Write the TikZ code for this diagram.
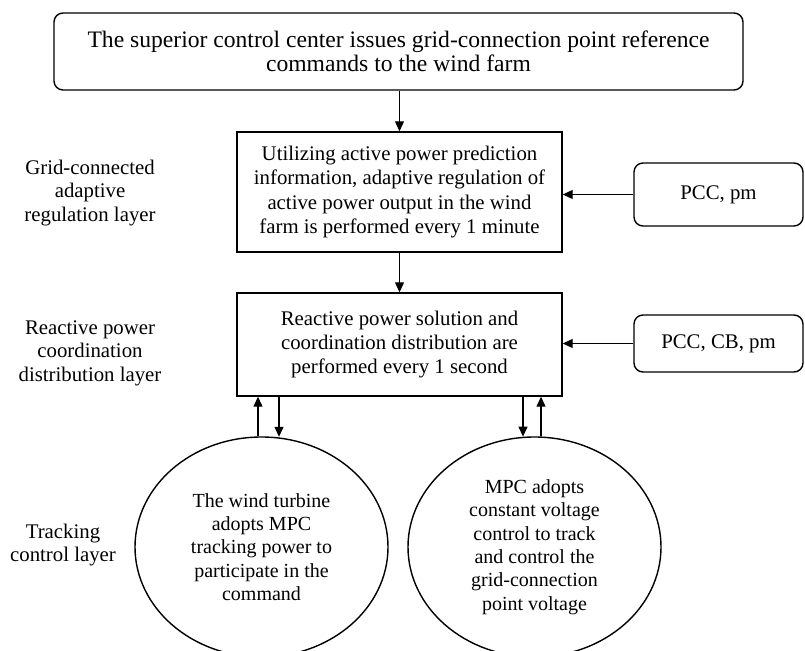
\documentclass[tikz,border=0pt]{standalone}
\usepackage{fontspec}
\setmainfont{Liberation Serif}
\newfontfamily\tnr{Liberation Serif}
\usetikzlibrary{arrows.meta,shapes.geometric,calc}

\tikzset{
  txt/.style={font=\tnr\fontsize{20.8}{23.5}\selectfont, align=center, inner sep=0pt},
  rbox/.style={txt, draw, line width=1.4pt, rounded corners=9pt},
  sbox/.style={txt, draw, line width=1.4pt},
  oval/.style={txt, draw, line width=1.4pt, ellipse, inner sep=0pt,
    font=\tnr\fontsize{20}{23.4}\selectfont},
  arr/.style={line width=1.2pt, -{Triangle[length=10pt,width=9pt]}},
}

\begin{document}
\begin{tikzpicture}[x=1pt,y=-1pt]
  \useasboundingbox (0,0) rectangle (805,650);
  \clip (0,0) rectangle (805,650);

  % top command box
  \node[rbox, minimum width=689pt, minimum height=77pt,
        font=\tnr\fontsize{23.6}{23.5}\selectfont] (cmd) at (398.5,51.5)
    {The superior control center issues grid-connection point reference\\commands to the wind farm};

  % active power regulation block
  \node[sbox, minimum width=325pt, minimum height=120pt,
        font=\tnr\fontsize{20.8}{24.3}\selectfont] (pred) at (399.5,192)
    {Utilizing active power prediction\\information, adaptive regulation of\\active power output in the wind\\farm is performed every 1 minute};

  % reactive power distribution block
  \node[sbox, minimum width=325pt, minimum height=103pt,
        font=\tnr\fontsize{20.8}{24.3}\selectfont] (react) at (399.5,344.5)
    {Reactive power solution and\\coordination distribution are\\performed every 1 second};

  % measurement inputs
  \node[rbox, minimum width=169pt, minimum height=63pt] (pccpm) at (718.5,194.5) {PCC, pm};
  \node[rbox, minimum width=169pt, minimum height=57pt] (pcccb) at (718.5,343.5) {PCC, CB, pm};

  % tracking controllers
  \node[oval, minimum width=253pt, minimum height=220pt] (wt) at (261.5,547)
    {The wind turbine\\adopts MPC\\tracking power to\\participate in the\\command};
  \node[oval, minimum width=253pt, minimum height=220pt] (vc) at (534.5,547)
    {MPC adopts\\constant voltage\\control to track\\and control the\\grid-connection\\point voltage};

  % layer labels
  \node[txt] (l1) at (90,193) {Grid-connected\\adaptive\\regulation layer};
  \node[txt] (l2) at (90,353) {Reactive power\\coordination\\distribution layer};
  \node[txt] (l3) at (63,545) {Tracking\\control layer};

  % connectors
  \draw[arr] (cmd.south -| pred.north) -- (pred.north);
  \draw[arr] (pred.south) -- (react.north);
  \draw[arr] (pccpm.west) -- (pccpm.west -| pred.east);
  \draw[arr] (pcccb.west) -- (pcccb.west -| react.east);

  \draw[arr] ([xshift=-3.5pt]wt.north) -- ([xshift=-3.5pt]wt.north |- react.south);
  \draw[arr] ([xshift=17.5pt]wt.north |- react.south) -- ([xshift=17.5pt,yshift=-0.5pt]wt.north);
  \draw[arr] ([xshift=-11.5pt]vc.north |- react.south) -- ([xshift=-11.5pt,yshift=-0.3pt]vc.north);
  \draw[arr] ([xshift=6.5pt]vc.north) -- ([xshift=6.5pt]vc.north |- react.south);
\end{tikzpicture}
\end{document}
